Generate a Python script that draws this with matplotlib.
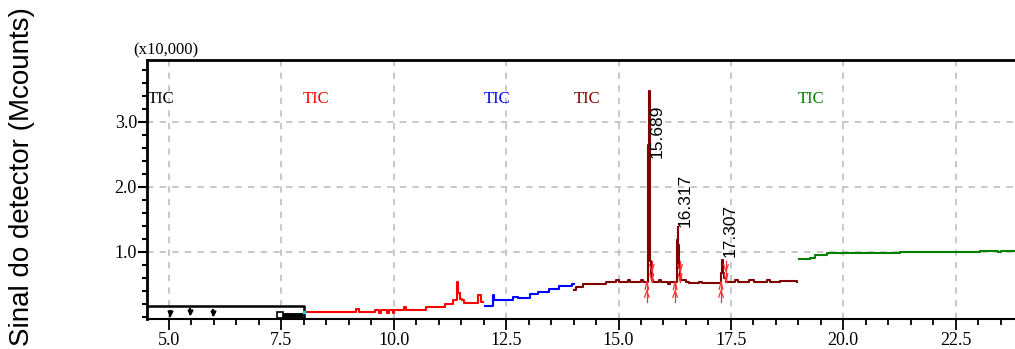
import matplotlib
matplotlib.use("Agg")
import matplotlib.pyplot as plt
from matplotlib.ticker import MultipleLocator, FormatStrFormatter
import matplotlib.transforms as mtransforms

# --- chromatogram segments (retention time in min, signal in x10,000 counts) ---
black_t = [4.50, 8.00, 8.00]
black_v = [0.165, 0.165, -0.04]
black_bar_t = [7.47, 7.99]
black_bar_v = [0.03, 0.03]
black_marks_t = [5.02, 5.47, 5.99]
black_marks_v = [0.05, 0.08, 0.06]

red_t = [8.00, 9.15, 9.22, 9.58, 9.68, 9.71, 9.86, 9.89, 9.98, 10.01, 10.22, 10.27,
         10.72, 11.15, 11.32, 11.41, 11.44, 11.47, 11.52, 11.56, 11.88, 11.93, 11.98]
red_v = [0.08, 0.12, 0.08, 0.11, 0.06, 0.11, 0.06, 0.11, 0.06, 0.11, 0.15, 0.11,
         0.145, 0.20, 0.25, 0.54, 0.36, 0.28, 0.25, 0.215, 0.33, 0.22, 0.22]

blue_t = [12.03, 12.21, 12.24, 12.66, 12.77, 13.03, 13.20, 13.46, 13.68, 13.97, 14.00]
blue_v = [0.17, 0.33, 0.257, 0.31, 0.29, 0.345, 0.375, 0.425, 0.477, 0.51, 0.51]

brown_t = [14.01, 14.05, 14.20, 14.42, 14.72, 14.95, 15.00, 15.20, 15.25, 15.50, 15.55,
           15.655, 15.689, 15.70, 15.71, 15.72, 15.74, 15.76, 15.90, 15.95, 16.10, 16.15,
           16.29, 16.317, 16.325, 16.335, 16.36, 16.40, 16.50, 16.56, 16.80, 16.86,
           17.29, 17.307, 17.325, 17.35, 17.40, 17.60, 17.66, 17.90, 18.02, 18.30,
           18.38, 18.60, 18.96]
brown_v = [0.41, 0.46, 0.50, 0.51, 0.54, 0.57, 0.54, 0.56, 0.54, 0.57, 0.54,
           2.64, 3.48, 1.79, 0.85, 0.62, 0.56, 0.54, 0.57, 0.54, 0.51, 0.54,
           1.18, 1.38, 1.10, 0.75, 0.62, 0.57, 0.54, 0.52, 0.54, 0.52,
           0.67, 0.87, 0.68, 0.60, 0.54, 0.56, 0.54, 0.56, 0.54, 0.56,
           0.54, 0.55, 0.54]

green_t = [19.02, 19.26, 19.37, 19.63, 20.00, 20.40, 20.45, 21.26, 22.20, 22.25, 23.04, 23.45, 23.50, 23.82]
green_v = [0.89, 0.91, 0.95, 0.975, 0.985, 0.975, 0.985, 1.00, 0.99, 1.00, 1.015, 0.99, 1.015, 1.015]

# integration start / end marks around each peak
peak_times = [15.689, 16.317, 17.307]
peak_starts = [15.63, 16.26, 17.28]
peak_ends = [15.74, 16.37, 17.39]
baseline_level = 0.54

# TIC captions: (x, colour)
tic_x = [4.53, 8.27, 12.30, 14.30, 19.29]
tic_colors = ["black", "#ff0000", "#0000ff", "#800000", "#008000"]
tic_align = ["left", "center", "center", "center", "center"]

peak_label_bottom = [2.44, 1.385, 0.92]

x_major = [5.0, 7.5, 10.0, 12.5, 15.0, 17.5, 20.0, 22.5]
y_major = [1.0, 2.0, 3.0]

W, H = 1015, 349
fig = plt.figure(figsize=(W / 100, H / 100), dpi=100)
ax = fig.add_axes([146.7 / W, (H - 319.3) / H, 1 - 146.7 / W, (319.3 - 60) / H])
ax.set_xlim(4.504, 23.82)
ax.set_ylim(-0.04, 3.95)

# grid
for x in x_major:
    ax.axvline(x, color="#c4c4c4", lw=1.3, ls=(0, (3.5, 3.5)), zorder=0)
for y in y_major:
    ax.axhline(y, color="#c4c4c4", lw=1.3, ls=(0, (3.5, 3.5)), zorder=0)

lw = 1.5
ax.plot(black_t, black_v, color="black", lw=1.8, zorder=3, solid_capstyle="butt")
ax.plot(black_bar_t, black_bar_v, color="black", lw=3.5, zorder=3, solid_capstyle="butt")
ax.plot([7.47], [0.03], marker="s", ms=4, mfc="white", mec="black", mew=1.2, zorder=4)
for t, v in zip(black_marks_t, black_marks_v):
    ax.plot([t, t], [v - 0.04, v + 0.04], color="black", lw=1.5, zorder=3)
    ax.plot([t], [v], marker="v", ms=3.5, color="black", zorder=3)
ax.plot([8.0], [0.08], marker="s", ms=1.5, color="#00e0e0", zorder=5)

ax.plot(red_t, red_v, color="#ff0000", lw=lw, drawstyle="steps-post", zorder=3)
ax.plot(blue_t, blue_v, color="#0000ff", lw=lw, drawstyle="steps-post", zorder=3)
ax.plot(brown_t, brown_v, color="#800000", lw=lw, drawstyle="steps-post", zorder=3)
ax.plot(green_t, green_v, color="#008000", lw=lw, drawstyle="steps-post", zorder=3)

# integration marks: arrow up at peak start, arrow down at peak end
mk = dict(color="#ff3030", lw=0.9, zorder=4)
for ts, te in zip(peak_starts, peak_ends):
    b = baseline_level
    ax.plot([ts, ts], [b, b - 0.31], **mk)
    ax.plot([ts - 0.04, ts, ts + 0.04], [b - 0.12, b, b - 0.12], **mk)
    ax.plot([ts - 0.05, ts, ts + 0.05], [b - 0.24, b - 0.14, b - 0.24], **mk)
    ax.plot([te, te], [b, b + 0.31], **mk)
    ax.plot([te - 0.04, te, te + 0.04], [b + 0.12, b, b + 0.12], **mk)
    ax.plot([te - 0.05, te, te + 0.05], [b + 0.26, b + 0.16, b + 0.26], **mk)

# peak retention-time labels
offset = mtransforms.offset_copy(ax.transData, fig=fig, x=5.5, y=0, units="points")
for t, yb in zip(peak_times, peak_label_bottom):
    ax.text(t, yb, f"{t:.3f}", rotation=90, ha="center", va="bottom",
            fontsize=12.5, family="Liberation Sans", color="black",
            transform=offset, zorder=5)

for x, c, ha in zip(tic_x, tic_colors, tic_align):
    ax.text(x, 3.35, "TIC", color=c, ha=ha, va="center", fontsize=12,
            family="Liberation Serif", zorder=5)

ax.text(166 / W, (H - 50) / H, "(x10,000)", transform=fig.transFigure,
        ha="center", va="center", fontsize=12, family="Liberation Serif")

# axes styling
ax.spines["right"].set_visible(False)
ax.spines["top"].set_linewidth(2.0)
ax.spines["left"].set_linewidth(2.0)
ax.spines["bottom"].set_linewidth(1.5)

ax.xaxis.set_major_locator(MultipleLocator(2.5))
ax.xaxis.set_minor_locator(MultipleLocator(0.5))
ax.yaxis.set_major_locator(MultipleLocator(1.0))
ax.yaxis.set_minor_locator(MultipleLocator(0.2))
ax.xaxis.set_major_formatter(FormatStrFormatter("%.1f"))
ax.yaxis.set_major_formatter(FormatStrFormatter("%.1f"))
ax.set_yticks(y_major)
ax.set_xticks(x_major)

ax.tick_params(axis="x", which="major", direction="out", length=8, width=1.3, pad=1.5,
               labelsize=13, top=False)
ax.tick_params(axis="x", which="minor", direction="out", length=4.5, width=1.3, top=False)
ax.tick_params(axis="y", which="major", direction="out", length=6.5, width=1.5, pad=0.5,
               labelsize=13, right=False)
ax.tick_params(axis="y", which="minor", direction="out", length=3.5, width=1.5, right=False)
for lab in ax.get_xticklabels() + ax.get_yticklabels():
    lab.set_family("Liberation Serif")

fig.text(22 / W, 1 - 177 / H, "Sinal do detector (Mcounts)", rotation=90,
         ha="center", va="center", fontsize=20, family="Liberation Sans")

fig.savefig("out.png", dpi=100)
